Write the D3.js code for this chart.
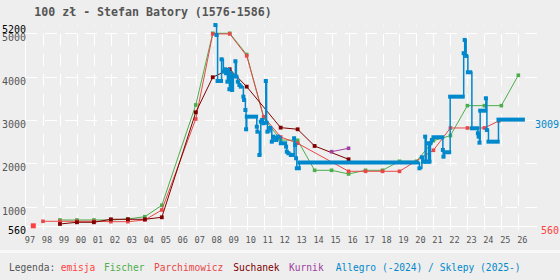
<!DOCTYPE html>
<html><head><meta charset="utf-8">
<script src="https://cdn.jsdelivr.net/npm/d3@7"></script>
<style>
html,body{margin:0;padding:0;background:#eeeeee;}
svg{display:block;}
text{font-family:"DejaVu Sans Mono",monospace;}
</style></head><body>
<svg id="c" width="560" height="280"></svg>
<script>
// ---------- data ----------
const titleText = "100 zł - Stefan Batory (1576-1586)";
const yTickValues = [1000, 2000, 3000, 4000, 5000];
const yEdgeValues = [560, 5200];
const xTickYears = d3.range(1997, 2027);

const emisjaYears = [1997.43];
const emisjaValues = [560];

const fischerYears  = [1999,2000,2001,2002,2003,2004,2005,2007,2008,2009,2010,2011,2012,2013,2014,2015,2016,2017,2018,2019,2020,2021,2022,2023,2024,2025,2026];
const fischerValues = [694,694,694,694,717,770,1033,3347,5000,5000,4510,3050,2539,2532,1840,1840,1755,1840,1840,2048,2048,2523,2639,3331,3331,3331,4032];

const parchYears  = [1998,1999,2000,2001,2002,2003,2004,2005,2007,2008,2009,2010,2011,2012,2013,2016,2017,2018,2019,2021,2022,2023,2024,2024.85];
const parchValues = [664,664,664,664,655,655,694,925,3024,4985,4985,4480,3077,2609,2463,1817,1817,1817,1817,2302,2816,2816,2816,2978];

const suchanekYears  = [1999,2000,2001,2002,2003,2004,2005,2007,2008,2009,2010,2012,2013,2014,2016];
const suchanekValues = [602,641,641,710,710,710,756,3178,3986,4170,3769,2824,2786,2401,2094];

const kurnikYears  = [2015,2016];
const kurnikValues = [2269,2348];

const allegroFrom = [2008.155,2008.226,2008.285,2008.52,2008.627,2008.727,2008.786,2008.862,2008.921,2008.98,
  2009.063,2009.139,2009.216,2009.334,2009.392,2009.475,2009.569,2009.652,2009.805,2009.846,
  2009.923,2009.964,2010.005,2010.594,2010.63,2010.748,2010.83,2010.907,2010.984,2011.125,
  2011.172,2011.219,2011.378,2011.478,2011.573,2011.732,2011.85,2012.009,2012.321,2012.362,
  2012.457,2012.598,2012.792,2012.851,2012.91,2012.952,2013.105,2020.176,2020.318,2020.394,
  2020.512,2020.571,2020.707,2020.766,2020.824,2020.907,2021.001,2021.555,2021.59,2021.649,
  2021.985,2022.781,2022.84,2022.928,2023.028,2023.264,2023.618,2023.665,2023.712,2023.753,
  2024.089,2024.148,2024.242,2024.831];
const allegroTo = [null,null,2008.49,null,null,null,null,null,null,null,
  null,null,null,null,null,null,null,null,null,null,
  null,null,2010.553,null,null,null,null,null,null,null,
  null,null,null,null,null,null,null,2012.262,null,null,
  null,2012.716,null,null,null,2013.07,2020.04,null,null,2020.494,
  null,2020.689,null,null,null,null,2021.514,null,null,2021.926,
  2022.722,null,null,null,2023.164,2023.576,null,null,null,2024.048,
  null,null,2024.784,2026.27];
const allegroValues = [5190,4960,3900,4400,4115,4170,4078,3884,4154,3709,
  4078,3693,4016,4355,4000,3884,3808,3769,3538,3462,
  3231,2786,3077,2846,2731,2193,2962,3001,2925,3900,
  2939,2731,2816,2500,2616,2539,2616,2463,2385,2270,
  2233,2193,2579,2424,2117,1887,2020,1887,2140,2039,
  2616,2039,2463,2039,2463,2539,2602,2309,2154,2256,
  3538,4540,4846,4477,4101,2809,2694,2616,2477,3215,
  3501,2770,2500,3009];

const legendLabels = ["emisja","Fischer","Parchimowicz","Suchanek","Kurnik","Allegro (-2024) / Sklepy (2025-)"];
const colors = {emisja:"#ff4040", fischer:"#4cae4c", parch:"#e84848", suchanek:"#800000", kurnik:"#a040a0", allegro:"#0088cc"};
const legendColors = [colors.emisja, colors.fischer, colors.parch, colors.suchanek, colors.kurnik, colors.allegro];

// ---------- drawing ----------
const svg = d3.select("#c");
const x = d3.scaleLinear().domain([1997, 2027.1]).range([26, 537]);
const y = d3.scaleLinear().domain([560, 5200]).range([225.8, 24.6]);

svg.append("rect").attr("width",560).attr("height",280).attr("fill","#eeeeee");

// title
svg.append("text").attr("x",34.3).attr("y",16).attr("fill","#555")
  .attr("font-size","11.6px").attr("font-weight","bold").text(titleText);

const grid = svg.append("g").attr("shape-rendering","crispEdges");
// horizontal grid
grid.selectAll("line.h").data(yTickValues).join("line")
  .attr("x1",25).attr("x2",537)
  .attr("y1",d=>Math.round(y(d))+0.5).attr("y2",d=>Math.round(y(d))+0.5)
  .attr("stroke","#fff").attr("stroke-width",1).attr("stroke-dasharray","12,8");
// vertical grid
grid.selectAll("line.v").data(xTickYears.filter(d=>d>1997)).join("line")
  .attr("x1",d=>Math.round(x(d))+0.5).attr("x2",d=>Math.round(x(d))+0.5)
  .attr("y1",226).attr("y2",y(5200))
  .attr("stroke","#fff").attr("stroke-width",1).attr("stroke-dasharray","12,8");
// axes
grid.append("line").attr("x1",25.5).attr("x2",25.5).attr("y1",y(5000)).attr("y2",226.5).attr("stroke","#fff");
grid.append("line").attr("x1",25).attr("x2",537).attr("y1",226.5).attr("y2",226.5).attr("stroke","#fff");
grid.selectAll("line.t").data(xTickYears).join("line")
  .attr("x1",d=>Math.round(x(d))+0.5).attr("x2",d=>Math.round(x(d))+0.5)
  .attr("y1",226).attr("y2",229.5).attr("stroke","#fff");

// y labels
svg.selectAll("text.yl").data(yTickValues).join("text")
  .attr("x",26).attr("y",d=>y(d)+8).attr("text-anchor","end")
  .attr("font-size","10px").attr("fill","#555").text(d=>d);
svg.selectAll("text.ye").data(yEdgeValues).join("text")
  .attr("x",26).attr("y",d=>y(d)+8).attr("text-anchor","end")
  .attr("font-size","10px").attr("fill","#000").text(d=>d);

// x labels
svg.selectAll("text.xl").data(xTickYears).join("text")
  .attr("x",d=>x(d)+4).attr("y",242.5).attr("text-anchor","middle")
  .attr("font-size","8.6px").attr("fill","#555").text(d=>String(d).slice(2));

// separator
svg.append("rect").attr("x",0).attr("y",250).attr("width",560).attr("height",3).attr("fill","#f8f8f8");

// series helper
function series(years, values, color, size){
  const pts = years.map((t,i)=>[t, values[i]]);
  const line = d3.line().x(d=>x(d[0])).y(d=>y(d[1]));
  svg.append("path").attr("d", line(pts)).attr("fill","none")
    .attr("stroke",color).attr("stroke-width",1);
  svg.append("g").selectAll("rect").data(pts).join("rect")
    .attr("x",d=>x(d[0])-size/2).attr("y",d=>y(d[1])-size/2)
    .attr("width",size).attr("height",size).attr("fill",color);
}

// emisja
svg.append("g").selectAll("rect").data(emisjaYears.map((t,i)=>[t,emisjaValues[i]])).join("rect")
  .attr("x",d=>x(d[0])-2.5).attr("y",d=>y(d[1])-2.5).attr("width",5).attr("height",5).attr("fill",colors.emisja);

series(fischerYears, fischerValues, colors.fischer, 3.6);
series(parchYears, parchValues, colors.parch, 3.6);
series(suchanekYears, suchanekValues, colors.suchanek, 3.8);
series(kurnikYears, kurnikValues, colors.kurnik, 3.6);

// allegro step series
const aPts = [];
allegroFrom.forEach((t,i)=>{
  aPts.push([t, allegroValues[i]]);
  if (allegroTo[i] !== null) aPts.push([allegroTo[i], allegroValues[i]]);
});
const stepLine = d3.line().x(d=>x(d[0])).y(d=>y(d[1])).curve(d3.curveStepAfter);
svg.append("path").attr("d", stepLine(aPts)).attr("fill","none")
  .attr("stroke",colors.allegro).attr("stroke-width",1.5);
svg.append("g").selectAll("rect").data(allegroFrom.map((t,i)=>({t0:t, t1: allegroTo[i]===null ? t : allegroTo[i], v: allegroValues[i]}))).join("rect")
  .attr("x",d=>x(d.t0)-2).attr("y",d=>y(d.v)-2)
  .attr("width",d=>x(d.t1)-x(d.t0)+4).attr("height",4).attr("fill",colors.allegro);

// right labels
const lastAllegro = allegroValues[allegroValues.length-1];
svg.append("text").attr("x",559).attr("y",y(lastAllegro)+8).attr("text-anchor","end")
  .attr("font-size","10px").attr("fill",colors.allegro).text(lastAllegro);
svg.append("text").attr("x",559).attr("y",y(emisjaValues[0])+8).attr("text-anchor","end")
  .attr("font-size","10px").attr("fill",colors.emisja).text(emisjaValues[0]);

// legend
const legendX = [60.7, 104, 154, 233.3, 289, 335.7];
svg.append("text").attr("x",9).attr("y",270.7).attr("font-size","9.6px").attr("fill","#555").text("Legenda:");
svg.selectAll("text.lg").data(legendLabels).join("text")
  .attr("x",(d,i)=>legendX[i]).attr("y",270.7).attr("font-size","9.6px")
  .attr("fill",(d,i)=>legendColors[i]).text(d=>d);
</script>
</body></html>
